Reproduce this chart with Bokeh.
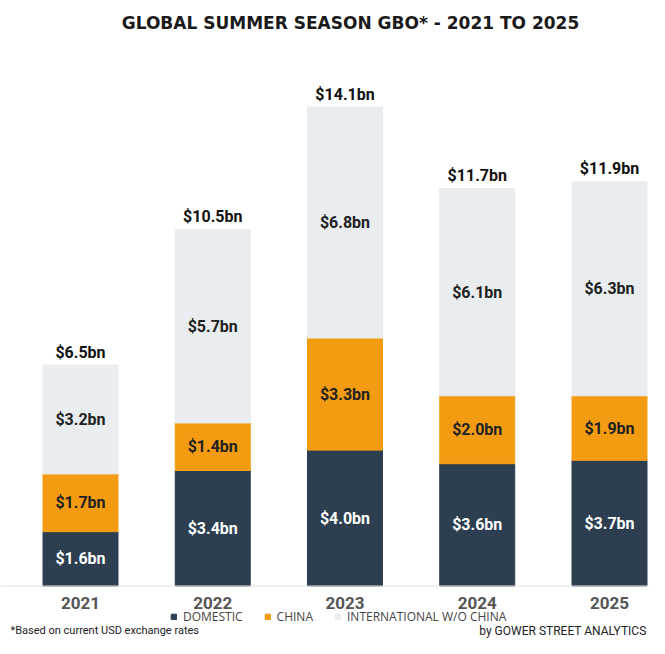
from bokeh.plotting import figure
from bokeh.models import ColumnDataSource, Range1d, Span, Label, Legend
from bokeh.embed import file_html
from bokeh.resources import INLINE
from bokeh.core.properties import value

# ---------------- data ----------------
years = ["2021", "2022", "2023", "2024", "2025"]
domestic = [1.6, 3.4, 4.0, 3.6, 3.7]
china = [1.7, 1.4, 3.3, 2.0, 1.9]
international = [3.2, 5.7, 6.8, 6.1, 6.3]
totals = [6.5, 10.5, 14.1, 11.7, 11.9]
series_names = ["DOMESTIC", "CHINA", "INTERNATIONAL W/O CHINA"]
series_colors = ["#2c3e50", "#f39c12", "#e9edef"]
label_colors = ["#ffffff", "#222222", "#222222"]
title_text = "GLOBAL SUMMER SEASON GBO* - 2021 TO 2025"
note_text = "*Based on current USD exchange rates"
credit_text = "by GOWER STREET ANALYTICS"

# ---------------- geometry / style ----------------
W, H = 649, 638
PX_PER_BN = 33.97
BASE_PX = 585.5          # baseline distance from top of figure
X0_PX = 80.0             # centre of first bar from left of figure
STEP_PX = 132.25         # distance between bar centres
BAR_W = 0.567

x_start = -X0_PX / STEP_PX
x_end = x_start + W / STEP_PX
y_end = BASE_PX / PX_PER_BN
y_start = -(H - BASE_PX) / PX_PER_BN

p = figure(width=W, height=H, output_backend="svg", toolbar_location=None,
           x_range=Range1d(x_start, x_end), y_range=Range1d(y_start, y_end),
           x_axis_location=None, y_axis_location=None, min_border=0)
p.grid.visible = False
p.outline_line_color = None
p.background_fill_color = "white"
p.border_fill_color = "white"

xs = list(range(len(years)))
src = ColumnDataSource(dict(x=xs, domestic=domestic, china=china, intl=international))

p.add_layout(Span(location=0, dimension="width", line_color="#e2e2e2", line_width=1))

rs = p.vbar_stack(["domestic", "china", "intl"], x="x", width=BAR_W,
                  color=series_colors, source=src)

# segment labels
seg_x, seg_y, seg_t, seg_c = [], [], [], []
for i in xs:
    bottom = 0.0
    for vals, col in zip([domestic, china, international], label_colors):
        v = vals[i]
        seg_x.append(i)
        seg_y.append(bottom + v / 2)
        seg_t.append(f"${v:.1f}bn")
        seg_c.append(col)
        bottom += v
p.text(x="x", y="y", text="t", text_color="c",
       source=ColumnDataSource(dict(x=seg_x, y=seg_y, t=seg_t, c=seg_c)),
       text_font=value("Roboto"), text_font_style="bold", text_font_size="16px",
       text_align="center", text_baseline="middle")

# total labels
GAP = 13 / PX_PER_BN
p.text(x=xs, y=[t + GAP for t in totals], text=[f"${t:.1f}bn" for t in totals],
       text_color="#111111", text_font=value("Roboto"), text_font_style="bold",
       text_font_size="16px", text_align="center", text_baseline="middle")

# year labels (category axis)
YEAR_Y = -16.5 / PX_PER_BN
p.text(x=xs, y=[YEAR_Y] * len(xs), text=years, text_color="#555555",
       text_font=value("Roboto"), text_font_style="bold", text_font_size="17px",
       text_align="center", text_baseline="middle")

# legend
legend = Legend(items=[(n, [r]) for n, r in zip(series_names, rs)],
                orientation="horizontal", location=(170, 13),
                glyph_width=7, glyph_height=7, label_standoff=6, spacing=21,
                padding=0, margin=0, label_height=16,
                label_text_font="Open Sans", label_text_font_size="12px",
                label_text_color="#444444", border_line_color=None,
                background_fill_alpha=0)
p.add_layout(legend)

# title & footers
p.add_layout(Label(x=350, y=616, x_units="screen", y_units="screen", text=title_text,
                   text_align="center", text_baseline="middle", text_font="DejaVu Sans",
                   text_font_style="bold", text_font_size="17px", text_color="#1a1a1a"))
p.add_layout(Label(x=10, y=8, x_units="screen", y_units="screen", text=note_text,
                   text_align="left", text_baseline="alphabetic", text_font="Roboto",
                   text_font_size="11px", text_color="#222222"))
p.add_layout(Label(x=646, y=8, x_units="screen", y_units="screen", text=credit_text,
                   text_align="right", text_baseline="alphabetic", text_font="Roboto",
                   text_font_size="12px", text_color="#222222"))

open("out.html", "w").write(file_html(p, INLINE))
